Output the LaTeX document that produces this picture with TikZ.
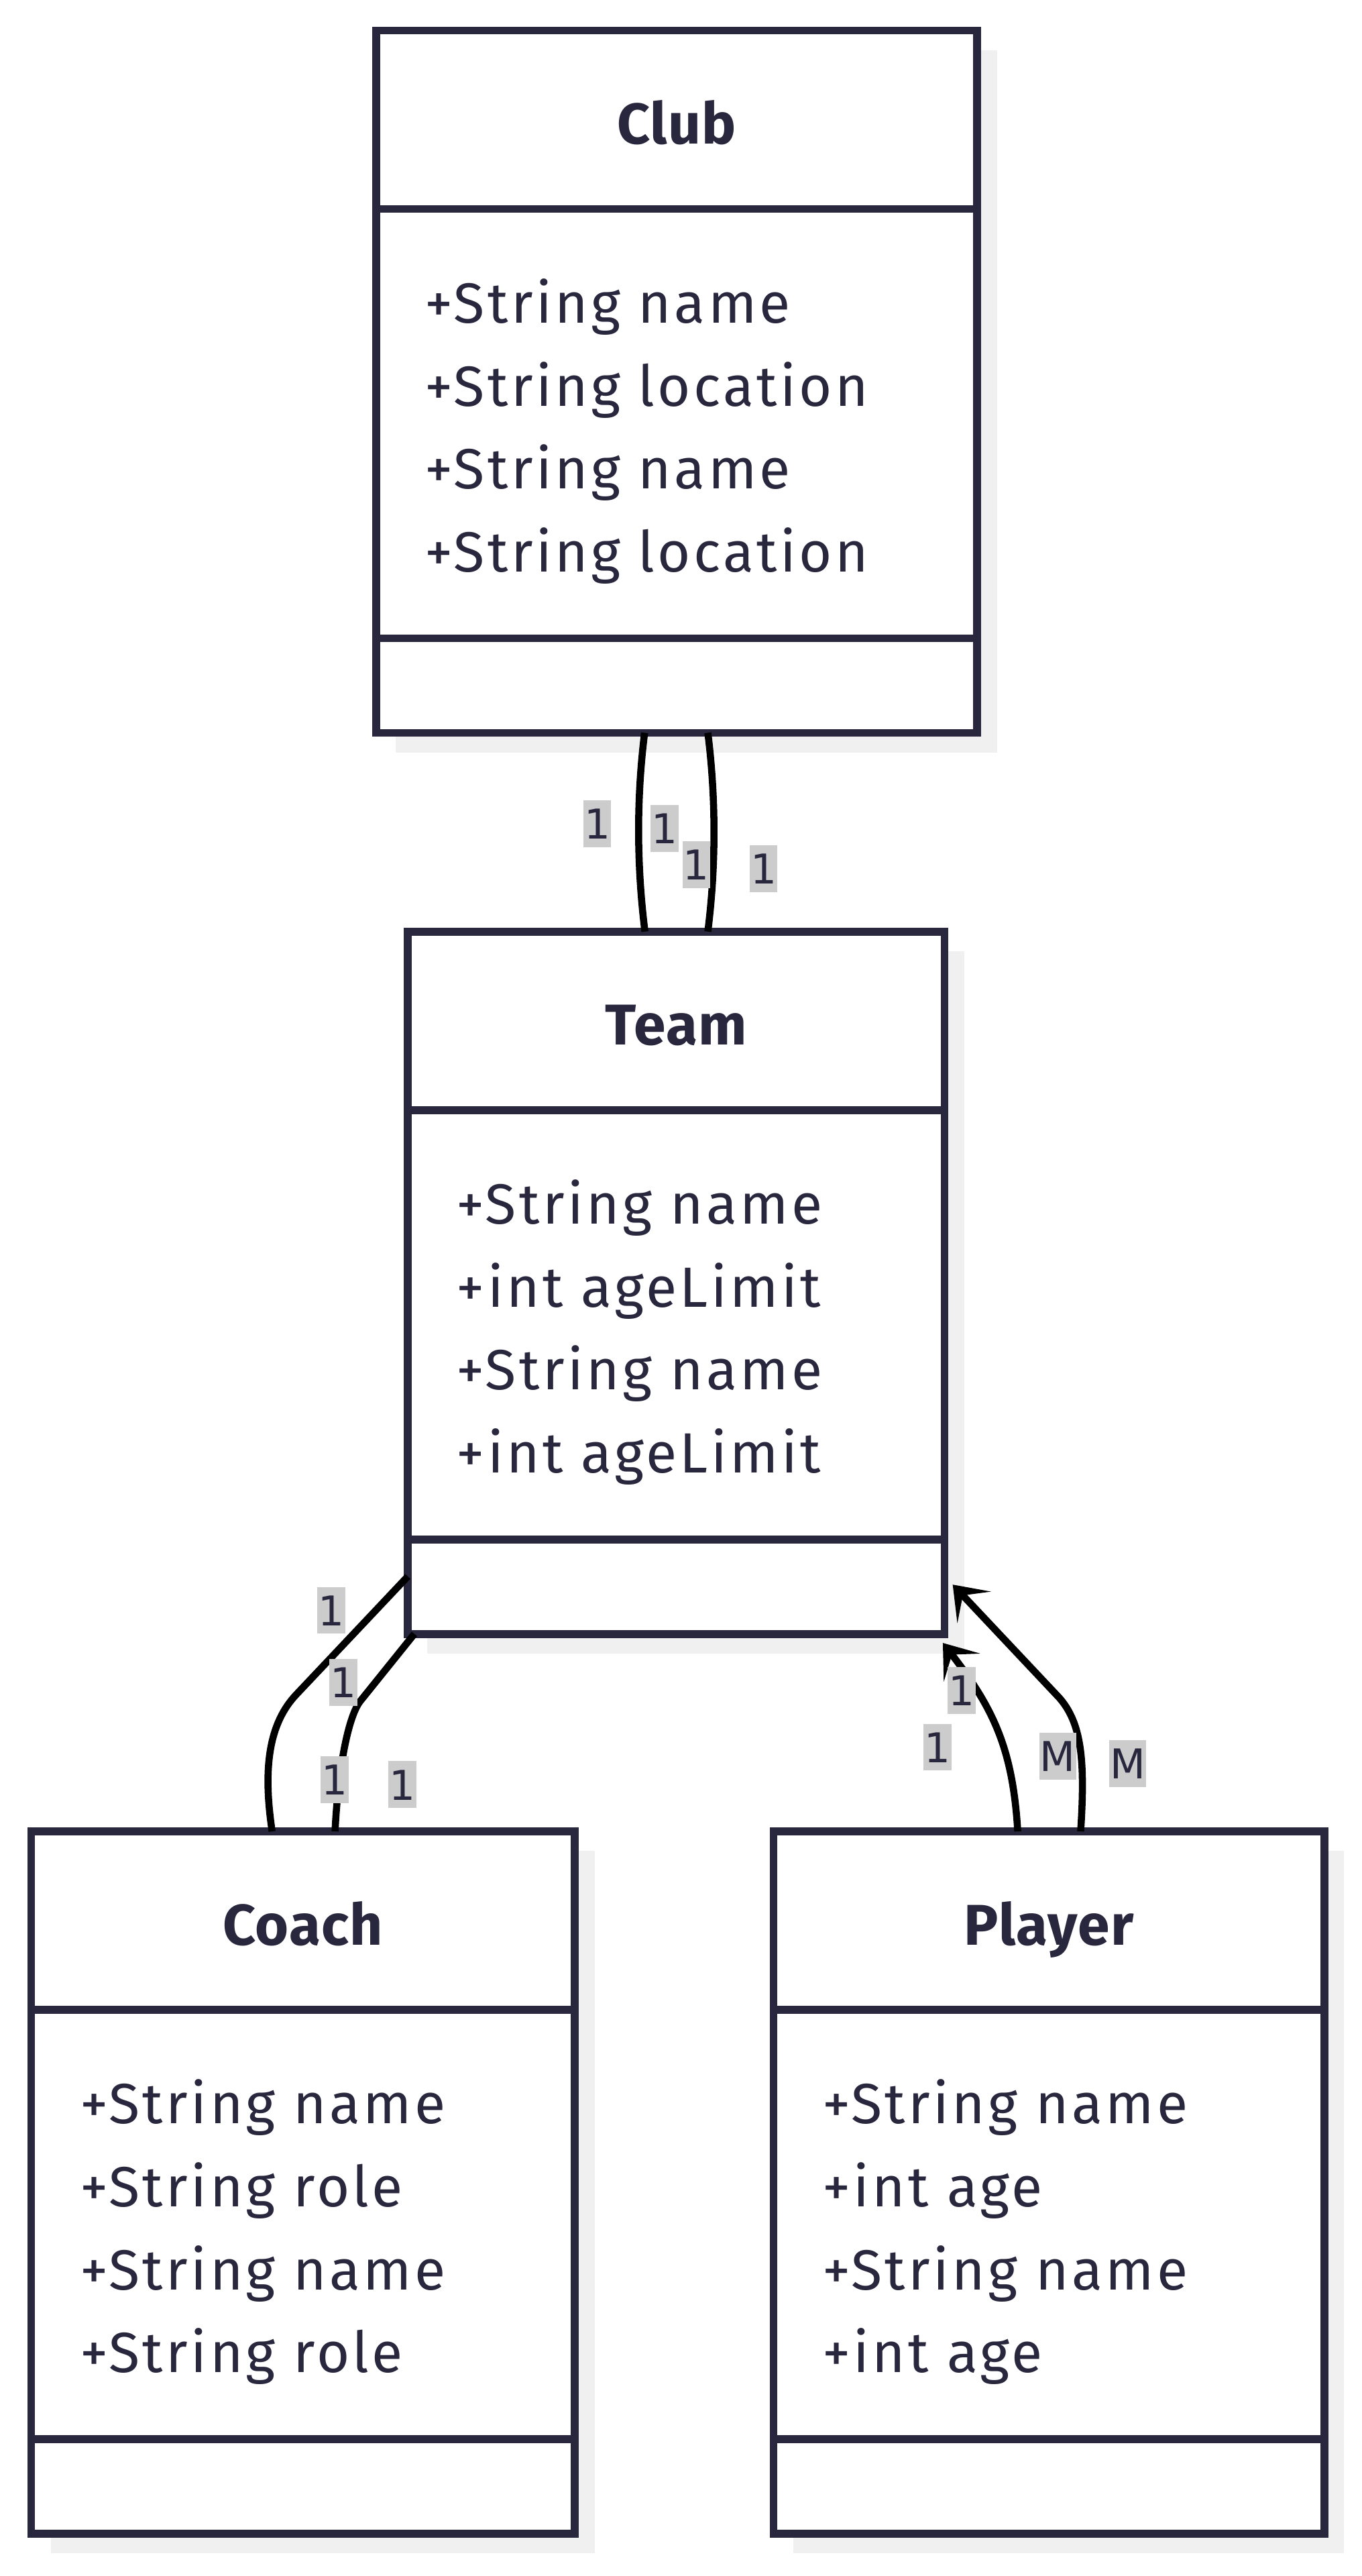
\documentclass[tikz,border=0pt]{standalone}
\usepackage{fontspec}
\setmainfont{Fira Sans}[LetterSpace=5.2,BoldFeatures={LetterSpace=1.5}]
\newfontfamily\multfont{DejaVu Sans}
\usepackage{tikz}
\usetikzlibrary{arrows.meta,shadows}
\definecolor{ink}{RGB}{41,39,62}
\definecolor{shade}{RGB}{240,240,240}
\definecolor{tag}{RGB}{204,204,204}

\begin{document}
\begin{tikzpicture}[x=1pt,y=-1pt,
    classbox/.style={draw=ink,fill=white,line width=4.8pt,inner sep=0pt,outer sep=0pt,
      minimum height=427.5pt,
      drop shadow={shadow xshift=12pt,shadow yshift=-12pt,fill=shade,opacity=1}},
    divider/.style={draw=ink,line width=4.8pt},
    classname/.style={anchor=base,text=ink,font=\fontsize{35}{42}\selectfont\bfseries},
    member/.style={anchor=base west,text=ink,inner sep=0pt,font=\fontsize{34.5}{41}\selectfont},
    link/.style={draw=black,line width=4.3pt},
    mult/.style={fill=tag,text=ink,inner xsep=0.5pt,inner ysep=0pt,text height=23.5pt,text depth=5pt,
      font=\multfont\fontsize{25}{30}\selectfont},
    tip/.tip={Stealth[length=19pt,width=28pt,inset=10pt]}]
\useasboundingbox (0,0) rectangle (829,1568);

\node[classbox,minimum width=366pt] (club) at (412,232.3) {};
\draw[divider] ([yshift=-108.6pt]club.north west) -- ([yshift=-108.6pt]club.north east);
\draw[divider] ([yshift=57.5pt]club.south west) -- ([yshift=57.5pt]club.south east);
\node[classname] (club-name) at ([yshift=-69pt]club.north) {Club};
\foreach \txt [count=\i] in {+String name,+String location,+String name,+String location}
    \node[member] (club-m\i) at ([xshift=29.5pt,yshift={-178pt-50.5pt*(\i-1)}]club.north west) {\txt};

\node[classbox,minimum width=326.8pt] (team) at (411.7,780.8) {};
\draw[divider] ([yshift=-108.6pt]team.north west) -- ([yshift=-108.6pt]team.north east);
\draw[divider] ([yshift=57.5pt]team.south west) -- ([yshift=57.5pt]team.south east);
\node[classname] (team-name) at ([yshift=-69pt]team.north) {Team};
\foreach \txt [count=\i] in {+String name,+int ageLimit,+String name,+int ageLimit}
    \node[member] (team-m\i) at ([xshift=29.5pt,yshift={-178pt-50.5pt*(\i-1)}]team.north west) {\txt};

\node[classbox,minimum width=331pt] (coach) at (184.5,1328.5) {};
\draw[divider] ([yshift=-108.6pt]coach.north west) -- ([yshift=-108.6pt]coach.north east);
\draw[divider] ([yshift=57.5pt]coach.south west) -- ([yshift=57.5pt]coach.south east);
\node[classname] (coach-name) at ([yshift=-69pt]coach.north) {Coach};
\foreach \txt [count=\i] in {+String name,+String role,+String name,+String role}
    \node[member] (coach-m\i) at ([xshift=29.5pt,yshift={-178pt-50.5pt*(\i-1)}]coach.north west) {\txt};

\node[classbox,minimum width=335.4pt] (player) at (638.7,1328.5) {};
\draw[divider] ([yshift=-108.6pt]player.north west) -- ([yshift=-108.6pt]player.north east);
\draw[divider] ([yshift=57.5pt]player.south west) -- ([yshift=57.5pt]player.south east);
\node[classname] (player-name) at ([yshift=-69pt]player.north) {Player};
\foreach \txt [count=\i] in {+String name,+int age,+String name,+int age}
    \node[member] (player-m\i) at ([xshift=29.5pt,yshift={-178pt-50.5pt*(\i-1)}]player.north west) {\txt};

\draw[link] ([xshift=-19.5pt]club.south) .. controls +(-5,40) and +(-5,-40) .. ([xshift=-19pt]team.north);
\draw[link] ([xshift=19pt]club.south) .. controls +(5,40) and +(5,-40) .. ([xshift=19.3pt]team.north);

\draw[link] ([yshift=35pt]team.south west) -- ++(-68,72) .. controls +(-16,17) and +(-6,-40) .. ([xshift=-18.8pt]coach.north);
\draw[link] ([xshift=4pt]team.south west) -- ++(-33,41) .. controls +(-7,9) and +(2,-40) .. ([xshift=19.5pt]coach.north);

\draw[link,tip-] ([xshift=-1pt,yshift=-5.5pt]team.south east) .. controls +(31,40) and +(-3,-50) .. ([xshift=-19pt]player.north);
\draw[link,tip-] ([xshift=5pt,yshift=30pt]team.south east) -- ++(65,69) .. controls +(13,15) and +(3,-45) .. ([xshift=19.3pt]player.north);

\foreach \x/\y/\t [count=\i] in {363.7/501.4/1,404.7/504.4/1,424/526.2/1,464.9/528.9/1,
    201.7/980.2/1,209/1024/1,203.7/1083.4/1,245/1086.3/1,
    585.5/1029/1,570.8/1063.5/1,644.1/1069/M,686.7/1073.4/M}
    \node[mult] (mult\i) at (\x,\y) {\t};
\end{tikzpicture}
\end{document}
